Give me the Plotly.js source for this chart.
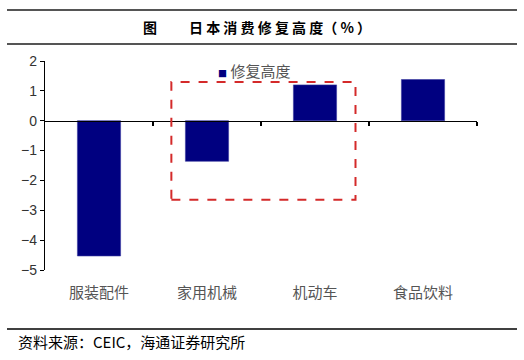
<!DOCTYPE html>
<html><head><meta charset="utf-8">
<script src="https://cdn.plot.ly/plotly-3.0.1.min.js"></script>
<style>html,body{margin:0;padding:0;background:#fff}#c{width:524px;height:360px}</style>
</head><body><div id="c"></div>
<script>
const categories = ['服装配件', '家用机械', '机动车', '食品饮料'];
const values = [-4.53, -1.36, 1.2, 1.38];
const seriesName = '修复高度';
const yTicks = [-5, -4, -3, -2, -1, 0, 1, 2];

const cjk = '"Noto Sans CJK SC", sans-serif';
const trace = {
  type: 'bar', x: categories.map((_, i) => i), y: values, name: seriesName,
  width: 0.4, marker: {color: '#000080', line: {color: '#3a3aa0', width: 0.6}},
  showlegend: false, hoverinfo: 'skip'
};
const helper = {type: 'scatter', x: [0], y: [0], xaxis: 'x2', mode: 'none', showlegend: false, hoverinfo: 'skip'};

const layout = {
  width: 524, height: 360,
  margin: {l: 45, r: 47, t: 61, b: 90},
  paper_bgcolor: '#fff', plot_bgcolor: '#fff',
  font: {family: '"Liberation Sans", Arial, sans-serif', color: '#333'},
  xaxis: {
    range: [-0.5, 3.5], tickvals: [0, 1, 2, 3], ticktext: categories,
    showline: false, showgrid: false, zeroline: false, ticks: '',
    ticklabelstandoff: 12,
    tickfont: {family: cjk, size: 15, color: '#555'}
  },
  xaxis2: {
    overlaying: 'x', anchor: 'free', position: 5/7, range: [-0.5, 3.5],
    tickvals: [0.5, 1.5, 2.5, 3.5], showticklabels: false, ticks: 'outside', ticklen: 4,
    tickcolor: '#000', tickwidth: 1.2, showline: true, linecolor: '#000', linewidth: 1.5,
    showgrid: false, zeroline: false
  },
  yaxis: {
    range: [-5, 2], tickvals: yTicks, showgrid: false, zeroline: false,
    showline: true, linecolor: '#000', linewidth: 1.2, ticks: 'outside', ticklen: 4,
    tickcolor: '#000', tickfont: {size: 14, color: '#333'}
  },
  shapes: [
    {type: 'line', xref: 'paper', yref: 'paper', x0: -38/432, x1: 472/432, y0: (270-10)/209, y1: (270-10)/209, line: {color: '#555', width: 2}},
    {type: 'line', xref: 'paper', yref: 'paper', x0: -38/432, x1: 472/432, y0: (270-44)/209, y1: (270-44)/209, line: {color: '#555', width: 2}},
    {type: 'line', xref: 'paper', yref: 'paper', x0: -38/432, x1: 472/432, y0: (270-329)/209, y1: (270-329)/209, line: {color: '#000', width: 1.5}},
    {type: 'rect', xref: 'x', yref: 'y', x0: 0.67, x1: 2.375, y0: -2.65, y1: 1.3, line: {color: '#d42a2a', width: 2, dash: 'dash'}}
  ],
  annotations: [
    {xref: 'paper', yref: 'paper', x: (150-45)/432, y: (270-27)/209, text: '<b>图</b>', showarrow: false, xanchor: 'center', yanchor: 'middle', font: {family: cjk, size: 14, color: '#000'}},
    {xref: 'paper', yref: 'paper', x: (280-45)/432, y: (270-27)/209, text: '<b>日 本 消 费 修 复 高 度（ % ）</b>', showarrow: false, xanchor: 'center', yanchor: 'middle', font: {family: cjk, size: 14, color: '#000'}},
    {xref: 'paper', yref: 'paper', x: (216-45)/432, y: (270-70)/209, text: '<span style="color:#000080;font-size:9px">■</span> ' + seriesName, showarrow: false, xanchor: 'left', yanchor: 'middle', font: {family: cjk, size: 15, color: '#555'}},
    {xref: 'paper', yref: 'paper', x: (16-45)/432, y: (270-341)/209, text: '资料来源：CEIC，海通证券研究所', showarrow: false, xanchor: 'left', yanchor: 'middle', font: {family: cjk, size: 15, color: '#000'}}
  ]
};
Plotly.newPlot('c', [trace, helper], layout, {staticPlot: true, displayModeBar: false});
</script></body></html>
